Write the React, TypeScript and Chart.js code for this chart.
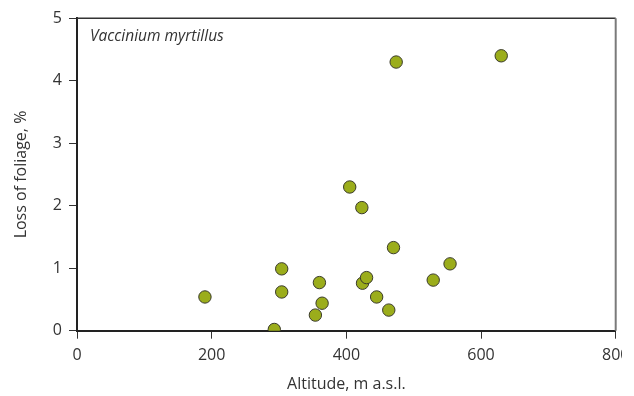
import React, { useEffect, useRef } from "react";
import { Chart, registerables } from "chart.js";

Chart.register(...registerables);

const altitude = [190, 293, 304, 304, 354, 360, 364, 405, 423, 424, 430, 445, 463, 470, 474, 529, 554, 630];
const foliageLoss = [0.54, 0.02, 0.99, 0.62, 0.25, 0.77, 0.44, 2.3, 1.97, 0.76, 0.85, 0.54, 0.33, 1.33, 4.3, 0.81, 1.07, 4.4];
const speciesLabel = "Vaccinium myrtillus";
const xTitle = "Altitude, m a.s.l.";
const yTitle = "Loss of foliage, %";

const FONT = "'Open Sans', 'DejaVu Sans', sans-serif";

const framePlugin = {
  id: "frame",
  afterDraw(chart: any) {
    const { ctx, chartArea } = chart;
    const { left, right, top, bottom } = chartArea;
    ctx.save();
    ctx.strokeStyle = "#333";
    ctx.lineWidth = 1.5;
    ctx.beginPath();
    ctx.moveTo(left, top);
    ctx.lineTo(right, top);
    ctx.stroke();
    ctx.strokeStyle = "#7a7a7a";
    ctx.lineWidth = 2;
    ctx.beginPath();
    ctx.moveTo(right, top);
    ctx.lineTo(right, bottom);
    ctx.stroke();
    ctx.fillStyle = "#333";
    ctx.font = `italic 15.5px ${FONT}`;
    ctx.textBaseline = "alphabetic";
    ctx.textAlign = "left";
    ctx.fillText(speciesLabel, left + 13, top + 23);
    ctx.restore();
  },
};

export default function App() {
  const ref = useRef<HTMLCanvasElement>(null);
  useEffect(() => {
    const chart = new Chart(ref.current!, {
      type: "scatter",
      data: {
        datasets: [
          {
            data: altitude.map((x, i) => ({ x, y: foliageLoss[i] })),
            backgroundColor: "#9bad1b",
            borderColor: "#3a3a2a",
            borderWidth: 1,
            pointRadius: 6.2,
            pointHoverRadius: 6.2,
          },
        ],
      },
      options: {
        animation: false,
        responsive: false,
        maintainAspectRatio: false,
        layout: { padding: { left: 0, top: 18.3, right: 18.3, bottom: 0 } },
        plugins: { legend: { display: false }, tooltip: { enabled: false } },
        scales: {
          x: {
            type: "linear",
            min: 0,
            max: 800,
            afterFit: (s: any) => {
              s.height = 65.3;
              s.paddingRight = 0;
              s.paddingLeft = 0;
            },
            ticks: { stepSize: 200, color: "#333", font: { family: FONT, size: 16 }, padding: 7 },
            grid: { drawOnChartArea: false, drawTicks: true, tickLength: 8, color: "#333", lineWidth: 1 },
            border: { color: "#222", width: 2 },
            title: {
              display: true,
              text: xTitle,
              color: "#333",
              font: { family: FONT, size: 16 },
              padding: { top: 0, bottom: 2 },
            },
          },
          y: {
            type: "linear",
            min: 0,
            max: 5,
            afterFit: (s: any) => {
              s.width = 77;
              s.paddingTop = 0;
              s.paddingBottom = 0;
            },
            ticks: { stepSize: 1, color: "#333", font: { family: FONT, size: 16 }, padding: 7 },
            grid: { drawOnChartArea: false, drawTicks: true, tickLength: 8, color: "#333", lineWidth: 1 },
            border: { color: "#222", width: 2 },
            title: {
              display: true,
              text: yTitle,
              color: "#333",
              font: { family: FONT, size: 16 },
              padding: { top: 12, bottom: 0 },
            },
          },
        },
      },
      plugins: [framePlugin],
    });
    return () => chart.destroy();
  }, []);
  return (
    <div
      style={{
        position: "fixed",
        left: 0,
        top: 0,
        width: 622,
        height: 396,
        overflow: "hidden",
        background: "#fff",
      }}
    >
      <canvas ref={ref} width={634} height={396} style={{ display: "block", width: 634, height: 396 }} />
    </div>
  );
}
